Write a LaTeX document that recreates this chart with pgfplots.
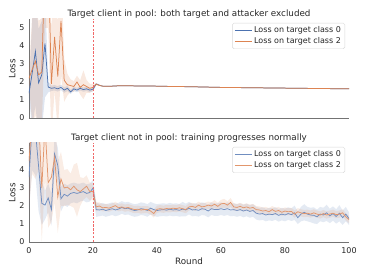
\documentclass[border=0pt]{standalone}
\usepackage{pgfplots}
\pgfplotsset{compat=1.18}
\usepackage{pgfplotstable}
\usepackage{fontspec}
\setmainfont{DejaVu Sans}
\definecolor{cblue}{HTML}{4C72B0}
\definecolor{corange}{HTML}{DD8452}
\definecolor{vred}{HTML}{F06868}
\definecolor{txt}{HTML}{262626}

\pgfplotstableread{
x b bs o os
0 1.37 0.25 2.20 0.40
1 2.50 3.00 2.70 3.00
2 3.70 3.00 3.15 3.00
3 1.95 3.00 2.40 3.00
4 2.40 3.00 2.55 3.00
5 4.15 3.00 9.00 4.00
6 1.72 0.30 9.00 4.00
7 1.65 0.15 1.90 3.00
8 1.68 0.15 4.50 3.00
9 1.62 0.15 2.30 3.00
10 1.70 0.15 5.40 3.00
11 1.55 0.15 2.10 1.20
12 1.65 0.15 1.85 0.60
13 1.45 0.12 1.80 0.35
14 1.62 0.12 1.75 0.30
15 1.55 0.12 2.00 0.35
16 1.65 0.12 1.70 0.40
17 1.58 0.12 1.85 0.80
18 1.62 0.12 1.75 0.35
19 1.55 0.12 1.65 0.25
20 1.60 0.12 1.70 0.20
21 1.89 0.05 1.88 0.05
22 1.82 0.03 1.81 0.03
23 1.77 0.02 1.77 0.02
24 1.76 0.02 1.76 0.02
25 1.76 0.02 1.76 0.02
26 1.77 0.02 1.77 0.02
27 1.78 0.02 1.78 0.02
28 1.79 0.02 1.79 0.02
29 1.79 0.02 1.79 0.02
30 1.79 0.02 1.79 0.02
35 1.78 0.02 1.78 0.02
40 1.77 0.02 1.77 0.02
45 1.75 0.02 1.75 0.02
50 1.74 0.02 1.74 0.02
55 1.72 0.02 1.72 0.02
60 1.70 0.02 1.70 0.02
65 1.69 0.02 1.69 0.02
70 1.68 0.02 1.68 0.02
75 1.67 0.02 1.67 0.02
80 1.66 0.02 1.66 0.02
85 1.65 0.02 1.65 0.02
90 1.64 0.02 1.64 0.02
95 1.63 0.02 1.63 0.02
100 1.62 0.02 1.62 0.02
}\toptab

\pgfplotstableread{
x b bs o os
0 3.60 1.80 4.50 2.50
1 6.50 2.50 6.80 3.00
2 6.20 2.50 6.50 3.00
3 4.20 2.50 7.00 3.00
4 2.15 1.20 3.00 3.00
5 2.05 0.80 6.50 3.00
6 2.45 0.80 3.30 2.50
7 1.80 0.90 3.60 2.50
8 4.90 1.00 4.70 2.50
9 4.25 1.00 2.50 2.00
10 2.40 0.70 3.50 1.50
11 2.65 0.60 3.00 1.00
12 2.55 0.60 3.05 1.00
13 2.70 0.55 2.90 0.90
14 2.75 0.55 3.10 1.20
15 2.70 0.55 2.90 1.50
16 2.75 0.50 2.80 0.80
17 2.80 0.50 2.95 0.60
18 2.70 0.50 3.10 0.60
19 2.75 0.50 2.80 0.50
20 3.00 0.45 2.80 0.45
21 1.80 0.40 1.95 0.25
22 1.78 0.35 2.00 0.20
23 1.82 0.35 1.90 0.20
24 1.75 0.35 1.92 0.20
25 1.80 0.35 1.88 0.20
26 1.85 0.35 1.95 0.20
27 1.78 0.35 2.02 0.22
28 1.83 0.35 1.90 0.20
29 1.92 0.35 1.95 0.20
30 1.85 0.35 1.88 0.20
31 1.88 0.35 1.92 0.20
32 1.80 0.35 1.85 0.20
33 1.75 0.35 1.80 0.20
34 1.78 0.35 1.82 0.20
35 1.85 0.35 1.78 0.20
36 1.82 0.35 1.80 0.20
37 1.75 0.35 1.80 0.20
38 1.88 0.35 1.72 0.20
39 1.80 0.35 1.58 0.22
40 1.75 0.35 1.82 0.20
41 1.78 0.35 1.85 0.20
42 1.80 0.35 1.82 0.20
43 1.77 0.35 1.86 0.20
44 1.82 0.35 1.84 0.20
45 1.78 0.35 1.88 0.20
46 1.80 0.35 1.85 0.20
47 1.76 0.35 1.90 0.20
48 1.83 0.40 1.85 0.20
49 1.78 0.35 1.80 0.20
50 1.88 0.35 1.95 0.20
51 1.78 0.35 1.98 0.20
52 1.80 0.35 1.92 0.20
53 1.76 0.35 2.05 0.20
54 1.85 0.35 1.95 0.20
55 1.82 0.35 1.98 0.20
56 1.72 0.35 2.05 0.20
57 1.85 0.35 2.00 0.20
58 1.80 0.35 2.10 0.22
59 1.80 0.35 1.98 0.20
60 1.85 0.35 2.12 0.22
61 1.80 0.35 2.15 0.25
62 1.85 0.35 2.05 0.22
63 1.78 0.35 2.20 0.25
64 1.80 0.35 1.95 0.20
65 1.75 0.35 1.92 0.20
66 1.80 0.35 1.98 0.20
67 1.72 0.35 1.90 0.20
68 1.78 0.35 1.95 0.20
69 1.70 0.35 1.88 0.20
70 1.75 0.35 1.92 0.20
71 1.60 0.35 1.80 0.20
72 1.55 0.35 1.78 0.20
73 1.58 0.35 1.72 0.20
74 1.50 0.35 1.75 0.20
75 1.55 0.35 1.68 0.20
76 1.52 0.35 1.80 0.20
77 1.58 0.35 1.70 0.20
78 1.48 0.35 1.75 0.20
79 1.55 0.35 1.65 0.20
80 1.50 0.35 1.72 0.20
81 1.58 0.35 1.68 0.20
82 1.52 0.35 1.70 0.20
83 1.62 0.40 1.55 0.20
84 1.35 0.35 1.68 0.20
85 1.55 0.40 1.62 0.20
86 1.65 0.45 1.58 0.20
87 1.55 0.40 1.60 0.20
88 1.50 0.40 1.55 0.20
89 1.48 0.45 1.62 0.20
90 1.40 0.40 1.55 0.20
91 1.55 0.40 1.50 0.20
92 1.50 0.40 1.58 0.20
93 1.62 0.45 1.50 0.20
94 1.45 0.40 1.55 0.20
95 1.58 0.40 1.60 0.20
96 1.42 0.40 1.52 0.20
97 1.60 0.45 1.55 0.20
98 1.35 0.40 1.62 0.20
99 1.55 0.40 1.40 0.20
100 1.30 0.35 1.25 0.20
}\bottab

\pgfplotsset{
  myaxis/.style={
    scale only axis, width=320bp, height=99bp,
    xmin=0, xmax=100, ymin=0, ymax=5.5,
    axis x line*=bottom, axis y line*=left,
    axis line style={black!55, line width=0.8pt},
    major tick length=0pt,
    xtick={0,20,...,100}, ytick={0,1,...,5},
    ticklabel style={font=\fontsize{8}{9.6}\selectfont, text=txt},
    /pgf/number format/assume math mode=true,
    yticklabel style={xshift=-1pt},
    xticklabel style={yshift=-2pt},
    label style={font=\fontsize{8.8}{10.5}\selectfont, text=txt},
    every axis title/.style={at={(0.5,1)}, anchor=base, yshift=2.6bp,
      font=\fontsize{8.8}{10.5}\selectfont, text=txt},
    ylabel={Loss},
    ylabel style={yshift=-3pt},
    legend style={at={(0.9875,0.96)}, anchor=north east, draw=black!15,
      rounded corners=1.5pt, font=\fontsize{8}{9.6}\selectfont, text=txt,
      inner xsep=2pt, inner ysep=1.5pt, row sep=-0.5pt},
    legend cell align=left,
  }
}

\begin{document}
\begin{tikzpicture}
\path[use as bounding box] (-29bp,-156bp) rectangle (337bp,118bp);
\begin{axis}[myaxis, at={(0,0)}, anchor=south west, xticklabels={},
  title={Target client in pool: both target and attacker excluded}]
\addplot[stack plots=y, draw=none, forget plot] table[x=x, y expr=\thisrow{b}-\thisrow{bs}] {\toptab};
\addplot[stack plots=y, draw=none, fill=cblue, fill opacity=0.18, forget plot] table[x=x, y expr=2*\thisrow{bs}] {\toptab} \closedcycle;
\addplot[stack plots=y, draw=none, forget plot] table[x=x, y expr=\thisrow{o}-\thisrow{os}-\thisrow{b}-\thisrow{bs}] {\toptab};
\addplot[stack plots=y, draw=none, fill=corange, fill opacity=0.18, forget plot] table[x=x, y expr=2*\thisrow{os}] {\toptab} \closedcycle;
\addplot[cblue, line width=0.75pt] table[x=x, y=b] {\toptab};
\addlegendentry{Loss on target class 0}
\addplot[corange, line width=0.75pt] table[x=x, y=o] {\toptab};
\addlegendentry{Loss on target class 2}
\draw[vred, line width=0.8pt, dash pattern=on 2.4pt off 1.4pt] (axis cs:20,0) -- (axis cs:20,5.5);
\end{axis}

\begin{axis}[myaxis, at={(0,-124bp)}, anchor=south west,
  xlabel={Round}, xlabel style={yshift=3pt},
  title={Target client not in pool: training progresses normally}]
\addplot[stack plots=y, draw=none, forget plot] table[x=x, y expr=\thisrow{b}-\thisrow{bs}] {\bottab};
\addplot[stack plots=y, draw=none, fill=cblue, fill opacity=0.15, forget plot] table[x=x, y expr=2*\thisrow{bs}] {\bottab} \closedcycle;
\addplot[stack plots=y, draw=none, forget plot] table[x=x, y expr=\thisrow{o}-\thisrow{os}-\thisrow{b}-\thisrow{bs}] {\bottab};
\addplot[stack plots=y, draw=none, fill=corange, fill opacity=0.15, forget plot] table[x=x, y expr=2*\thisrow{os}] {\bottab} \closedcycle;
\addplot[cblue!80, line width=0.75pt] table[x=x, y=b] {\bottab};
\addlegendentry{Loss on target class 0}
\addplot[corange!85, line width=0.75pt] table[x=x, y=o] {\bottab};
\addlegendentry{Loss on target class 2}
\draw[vred, line width=0.8pt, dash pattern=on 2.4pt off 1.4pt] (axis cs:20,0) -- (axis cs:20,5.5);
\end{axis}
\end{tikzpicture}
\end{document}
